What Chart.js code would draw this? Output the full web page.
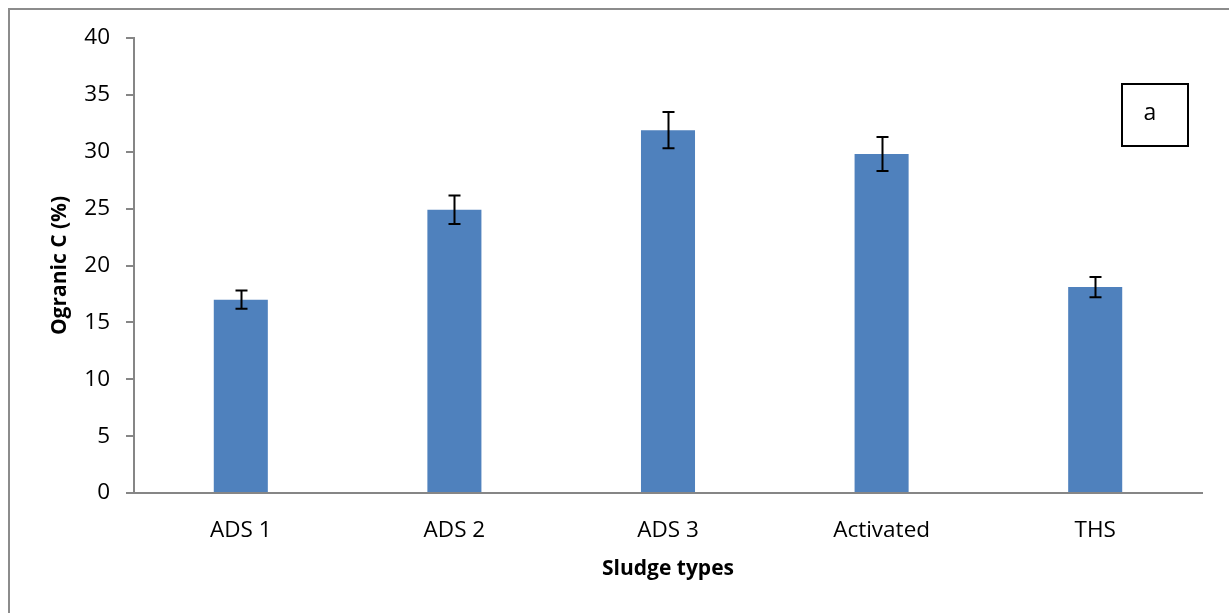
<!DOCTYPE html>
<html>
<head>
<meta charset="utf-8">
<script src="https://cdn.jsdelivr.net/npm/chart.js@4/dist/chart.umd.min.js"></script>
<style>
html,body{margin:0;padding:0;background:#fff;}
#wrap{position:relative;width:1229px;height:613px;}
</style>
</head>
<body>
<div id="wrap"><canvas id="c" width="1229" height="613"></canvas></div>
<script>
const categories = ['ADS 1', 'ADS 2', 'ADS 3', 'Activated', 'THS'];
const organicC = [17.0, 24.9, 31.9, 29.8, 18.1];
const errors = [0.8, 1.25, 1.6, 1.5, 0.9];
const yTicks = [0, 5, 10, 15, 20, 25, 30, 35, 40];
const panelLabel = 'a';

const FONT = "'Open Sans', 'Noto Sans', sans-serif";

const frame = {
  id: 'frame',
  beforeDraw(chart) {
    const ctx = chart.ctx;
    ctx.save();
    ctx.fillStyle = '#fff';
    ctx.fillRect(0, 0, chart.width, chart.height);
    ctx.strokeStyle = '#8c8c8c';
    ctx.lineWidth = 2;
    ctx.strokeRect(9, 9, 1240, 700);
    ctx.restore();
  }
};

const errorBars = {
  id: 'errorBars',
  afterDatasetsDraw(chart) {
    const ctx = chart.ctx;
    const y = chart.scales.y;
    const meta = chart.getDatasetMeta(0);
    ctx.save();
    ctx.strokeStyle = '#000';
    ctx.lineWidth = 2;
    meta.data.forEach((bar, i) => {
      const v = organicC[i], e = errors[i];
      const yt = y.getPixelForValue(v + e);
      const yb = y.getPixelForValue(v - e);
      const x = Math.round(bar.x) + 0.5;
      ctx.beginPath();
      ctx.moveTo(x, yt); ctx.lineTo(x, yb);
      ctx.moveTo(x - 6, yt); ctx.lineTo(x + 6, yt);
      ctx.moveTo(x - 6, yb); ctx.lineTo(x + 6, yb);
      ctx.stroke();
    });
    ctx.restore();
  }
};

const labelBox = {
  id: 'labelBox',
  afterDraw(chart) {
    const ctx = chart.ctx;
    ctx.save();
    ctx.strokeStyle = '#000';
    ctx.lineWidth = 2;
    ctx.strokeRect(1122, 84, 66, 62);
    ctx.fillStyle = '#000';
    ctx.font = "23px " + FONT;
    ctx.textAlign = 'center';
    ctx.textBaseline = 'middle';
    ctx.fillText(panelLabel, 1150, 113);
    ctx.restore();
  }
};

new Chart(document.getElementById('c'), {
  type: 'bar',
  data: {
    labels: categories,
    datasets: [{
      data: organicC,
      backgroundColor: '#4F81BD',
      borderWidth: 0,
      barPercentage: 0.253,
      categoryPercentage: 1.0
    }]
  },
  options: {
    responsive: false,
    animation: false,
    devicePixelRatio: 1,
    layout: { padding: { left: 0, right: 27, top: 38, bottom: 0 } },
    plugins: { legend: { display: false }, tooltip: { enabled: false } },
    scales: {
      x: {
        grid: { display: false, drawTicks: false },
        border: { display: true, color: '#868686', width: 2 },
        ticks: { color: '#000', font: { family: FONT, size: 22.5 }, padding: 24 },
        title: { display: true, text: 'Sludge types', color: '#000',
                 font: { family: FONT, size: 21, weight: 'bold' }, padding: { top: 0, bottom: 31 } },
        afterFit(s) { s.height = 120; }
      },
      y: {
        min: 0, max: 40,
        afterBuildTicks(s) { s.ticks = yTicks.map(v => ({ value: v })); },
        grid: { display: true, drawOnChartArea: false, drawTicks: true, tickLength: 8, color: '#868686', lineWidth: 2 },
        border: { display: true, color: '#868686', width: 2 },
        ticks: { color: '#000', font: { family: FONT, size: 22.5 }, padding: 16 },
        title: { display: true, text: 'Ogranic C (%)', color: '#000',
                 font: { family: FONT, size: 21, weight: 'bold' }, padding: { top: 47, bottom: 0 } },
        afterFit(s) { s.width = 134; }
      }
    }
  },
  plugins: [frame, errorBars, labelBox]
});
</script>
</body>
</html>
